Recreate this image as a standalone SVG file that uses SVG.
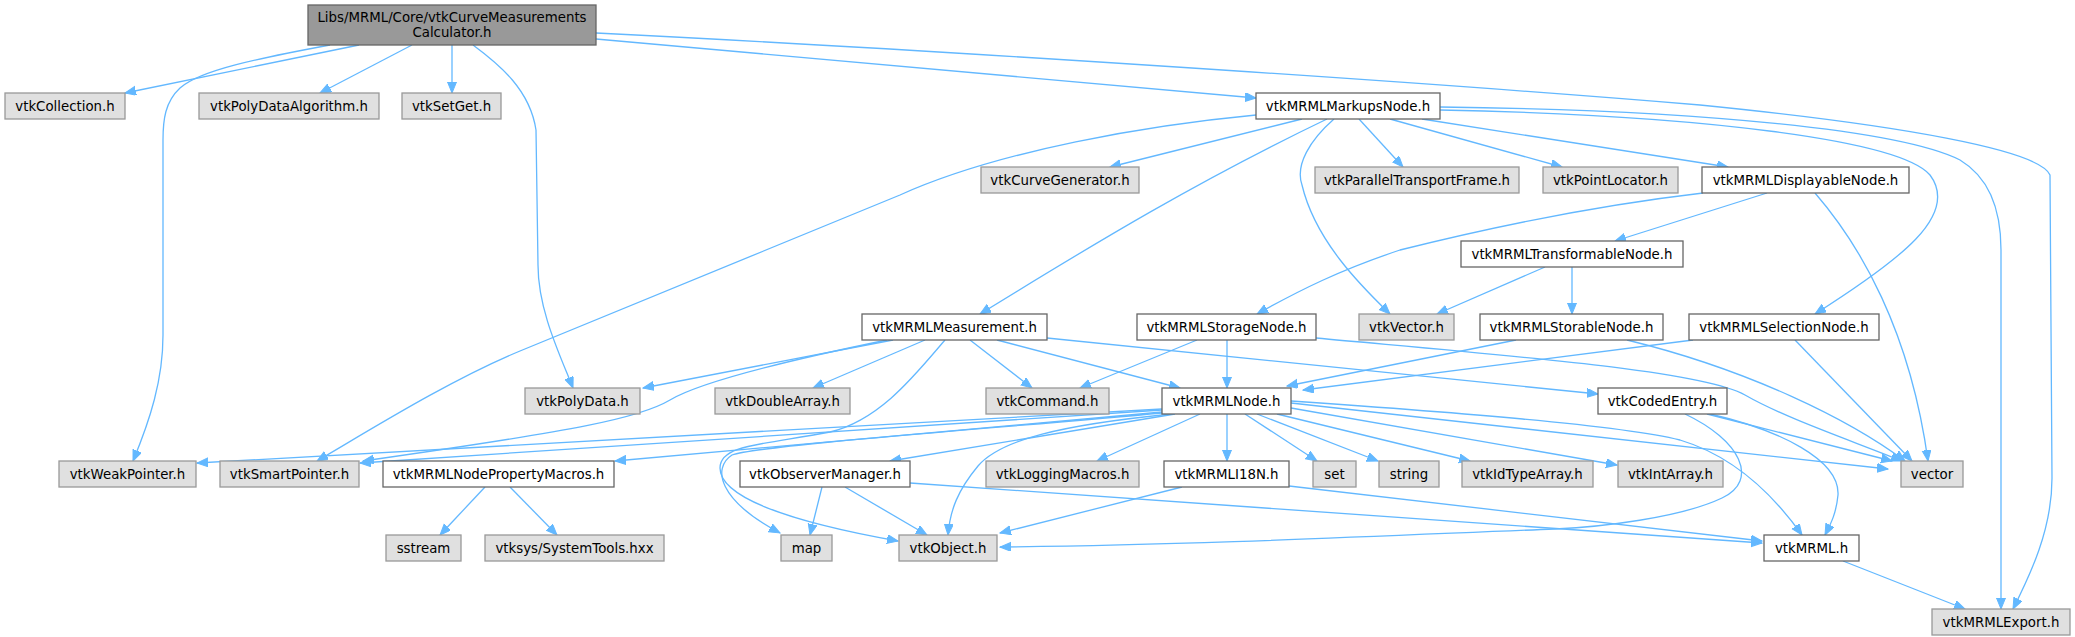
<svg xmlns="http://www.w3.org/2000/svg" width="2075" height="637" viewBox="0 0 2075 637">
<style>
text{font-family:"DejaVu Sans","Liberation Sans",sans-serif;font-size:13.33px;fill:#000;text-anchor:middle}
.root rect{fill:#999999;stroke:#666666;stroke-width:1.3}
.ext rect{fill:#e0e0e0;stroke:#999999;stroke-width:1.3}
.int rect{fill:#ffffff;stroke:#666666;stroke-width:1.3}
#edges path{fill:none;stroke:#63b8ff;stroke-width:1.3;marker-end:url(#arr)}
</style>
<defs>
<marker id="arr" markerUnits="userSpaceOnUse" markerWidth="12" markerHeight="10" refX="11" refY="4.5" orient="auto">
<path d="M0,0 L11,4.5 L0,9 z" fill="#63b8ff" stroke="#63b8ff" stroke-width="1"/>
</marker>
</defs>
<rect width="2075" height="637" fill="#ffffff"/>
<g id="edges">
<path d="M359,45 L125,93"/>
<path d="M330,45 C260,58 200,70 180,88 C165,102 163,120 163,140 L163,335 C163,380 150,420 133,461"/>
<path d="M412,45 L320,93"/>
<path d="M452,45 L452,93"/>
<path d="M473,45 C500,65 530,90 536,130 L538,265 C538,310 560,355 573,388"/>
<path d="M596,39 L1256,98"/>
<path d="M596,33 C900,48 1400,80 1700,105 C1900,125 2040,150 2050,175 L2052,478 C2052,530 2030,575 2013,609"/>
<path d="M1256,115 C1150,125 1000,150 900,195 L520,351 C450,380 370,430 317,461"/>
<path d="M1302,119 L1110,167"/>
<path d="M1327,119 C1200,180 1100,240 980,314"/>
<path d="M1334,119 C1310,140 1295,165 1302,185 C1315,240 1360,285 1390,314"/>
<path d="M1359,119 L1403,167"/>
<path d="M1390,119 L1562,167"/>
<path d="M1422,119 L1728,167"/>
<path d="M1440,110 C1700,115 1900,140 1930,175 C1960,215 1900,260 1815,314"/>
<path d="M1440,107 C1700,110 1900,130 1960,160 C1990,178 2001,210 2001,250 L2001,609"/>
<path d="M1703,193 C1600,205 1500,225 1400,250 C1340,270 1300,290 1257,314"/>
<path d="M1767,193 L1615,241"/>
<path d="M1815,193 C1860,245 1910,330 1928,461"/>
<path d="M1545,267 L1437,314"/>
<path d="M1572,267 L1572,314"/>
<path d="M893,340 L643,388"/>
<path d="M887,340 C780,362 700,382 670,400 C640,418 580,430 363,461"/>
<path d="M925,340 L813,388"/>
<path d="M945,340 C915,375 880,420 830,432 C760,445 720,445 720,468 C720,495 780,520 898,541"/>
<path d="M970,340 L1032,388"/>
<path d="M997,340 L1180,388"/>
<path d="M1047,338 L1598,394"/>
<path d="M1197,340 L1080,388"/>
<path d="M1227,340 L1227,388"/>
<path d="M1316,338 C1500,355 1700,370 1745,395 C1785,418 1850,440 1902,461"/>
<path d="M1516,340 L1287,386"/>
<path d="M1627,340 C1750,370 1850,420 1905,461"/>
<path d="M1693,340 L1303,390"/>
<path d="M1795,340 L1912,461"/>
<path d="M1707,414 L1892,461"/>
<path d="M1710,414 C1780,430 1840,460 1838,495 C1836,515 1830,525 1825,535"/>
<path d="M1685,414 C1740,440 1760,480 1722,498 C1680,518 1600,527 1555,529 C1400,535 1200,545 1000,547"/>
<path d="M1162,409 L197,463"/>
<path d="M1162,410 L360,463"/>
<path d="M1162,412 L615,461"/>
<path d="M1175,414 L890,461"/>
<path d="M1162,413 C1000,428 760,445 732,455 C712,468 718,500 780,533"/>
<path d="M1172,414 C1060,425 1000,440 978,466 C958,490 950,510 948,535"/>
<path d="M1200,414 L1097,461"/>
<path d="M1227,414 L1227,461"/>
<path d="M1245,414 L1317,461"/>
<path d="M1257,414 L1378,461"/>
<path d="M1277,414 L1470,461"/>
<path d="M1291,408 L1617,465"/>
<path d="M1291,403 L1888,469"/>
<path d="M1291,401 C1450,412 1620,425 1680,440 C1730,455 1770,490 1802,535"/>
<path d="M822,487 L810,535"/>
<path d="M845,487 L927,535"/>
<path d="M910,483 L1762,543"/>
<path d="M1182,487 L1000,533"/>
<path d="M1289,486 L1762,541"/>
<path d="M485,487 L440,535"/>
<path d="M510,487 L557,535"/>
<path d="M1843,561 L1965,609"/>
</g>
<g id="n_root" class="root"><rect x="308" y="5" width="288" height="40"/><text x="452" y="22">Libs/MRML/Core/vtkCurveMeasurements</text><text x="452" y="37">Calculator.h</text></g>
<g id="n_collection" class="ext"><rect x="5" y="93" width="120" height="26"/><text x="65" y="110.5">vtkCollection.h</text></g>
<g id="n_polydataalg" class="ext"><rect x="199" y="93" width="180" height="26"/><text x="289" y="110.5">vtkPolyDataAlgorithm.h</text></g>
<g id="n_setget" class="ext"><rect x="402" y="93" width="99" height="26"/><text x="451.5" y="110.5">vtkSetGet.h</text></g>
<g id="n_markups" class="int"><rect x="1256" y="93" width="184" height="26"/><text x="1348" y="110.5">vtkMRMLMarkupsNode.h</text></g>
<g id="n_curvegen" class="ext"><rect x="981" y="167" width="158" height="26"/><text x="1060" y="184.5">vtkCurveGenerator.h</text></g>
<g id="n_ptf" class="ext"><rect x="1315" y="167" width="204" height="26"/><text x="1417" y="184.5">vtkParallelTransportFrame.h</text></g>
<g id="n_pointlocator" class="ext"><rect x="1543" y="167" width="135" height="26"/><text x="1610.5" y="184.5">vtkPointLocator.h</text></g>
<g id="n_displayable" class="int"><rect x="1702" y="167" width="207" height="26"/><text x="1805.5" y="184.5">vtkMRMLDisplayableNode.h</text></g>
<g id="n_transformable" class="int"><rect x="1461" y="241" width="222" height="26"/><text x="1572" y="258.5">vtkMRMLTransformableNode.h</text></g>
<g id="n_measurement" class="int"><rect x="862" y="314" width="185" height="26"/><text x="954.5" y="331.5">vtkMRMLMeasurement.h</text></g>
<g id="n_storage" class="int"><rect x="1137" y="314" width="179" height="26"/><text x="1226.5" y="331.5">vtkMRMLStorageNode.h</text></g>
<g id="n_vtkvector" class="ext"><rect x="1359" y="314" width="95" height="26"/><text x="1406.5" y="331.5">vtkVector.h</text></g>
<g id="n_storable" class="int"><rect x="1480" y="314" width="183" height="26"/><text x="1571.5" y="331.5">vtkMRMLStorableNode.h</text></g>
<g id="n_selection" class="int"><rect x="1689" y="314" width="190" height="26"/><text x="1784" y="331.5">vtkMRMLSelectionNode.h</text></g>
<g id="n_polydata" class="ext"><rect x="525" y="388" width="115" height="26"/><text x="582.5" y="405.5">vtkPolyData.h</text></g>
<g id="n_doublearray" class="ext"><rect x="715" y="388" width="135" height="26"/><text x="782.5" y="405.5">vtkDoubleArray.h</text></g>
<g id="n_command" class="ext"><rect x="986" y="388" width="123" height="26"/><text x="1047.5" y="405.5">vtkCommand.h</text></g>
<g id="n_mrmlnode" class="int"><rect x="1162" y="388" width="129" height="26"/><text x="1226.5" y="405.5">vtkMRMLNode.h</text></g>
<g id="n_codedentry" class="int"><rect x="1598" y="388" width="129" height="26"/><text x="1662.5" y="405.5">vtkCodedEntry.h</text></g>
<g id="n_weakptr" class="ext"><rect x="59" y="461" width="137" height="26"/><text x="127.5" y="478.5">vtkWeakPointer.h</text></g>
<g id="n_smartptr" class="ext"><rect x="220" y="461" width="139" height="26"/><text x="289.5" y="478.5">vtkSmartPointer.h</text></g>
<g id="n_propmacros" class="int"><rect x="383" y="461" width="231" height="26"/><text x="498.5" y="478.5">vtkMRMLNodePropertyMacros.h</text></g>
<g id="n_observer" class="int"><rect x="740" y="461" width="170" height="26"/><text x="825" y="478.5">vtkObserverManager.h</text></g>
<g id="n_logging" class="ext"><rect x="986" y="461" width="153" height="26"/><text x="1062.5" y="478.5">vtkLoggingMacros.h</text></g>
<g id="n_i18n" class="int"><rect x="1164" y="461" width="125" height="26"/><text x="1226.5" y="478.5">vtkMRMLI18N.h</text></g>
<g id="n_set" class="ext"><rect x="1313" y="461" width="43" height="26"/><text x="1334.5" y="478.5">set</text></g>
<g id="n_string" class="ext"><rect x="1379" y="461" width="60" height="26"/><text x="1409" y="478.5">string</text></g>
<g id="n_idtype" class="ext"><rect x="1462" y="461" width="131" height="26"/><text x="1527.5" y="478.5">vtkIdTypeArray.h</text></g>
<g id="n_intarray" class="ext"><rect x="1618" y="461" width="105" height="26"/><text x="1670.5" y="478.5">vtkIntArray.h</text></g>
<g id="n_vector" class="ext"><rect x="1901" y="461" width="62" height="26"/><text x="1932" y="478.5">vector</text></g>
<g id="n_sstream" class="ext"><rect x="386" y="535" width="75" height="26"/><text x="423.5" y="552.5">sstream</text></g>
<g id="n_systools" class="ext"><rect x="485" y="535" width="179" height="26"/><text x="574.5" y="552.5">vtksys/SystemTools.hxx</text></g>
<g id="n_map" class="ext"><rect x="781" y="535" width="51" height="26"/><text x="806.5" y="552.5">map</text></g>
<g id="n_vtkobject" class="ext"><rect x="899" y="535" width="98" height="26"/><text x="948" y="552.5">vtkObject.h</text></g>
<g id="n_vtkmrml" class="int"><rect x="1764" y="535" width="95" height="26"/><text x="1811.5" y="552.5">vtkMRML.h</text></g>
<g id="n_export" class="ext"><rect x="1932" y="609" width="138" height="26"/><text x="2001" y="626.5">vtkMRMLExport.h</text></g>
</svg>
